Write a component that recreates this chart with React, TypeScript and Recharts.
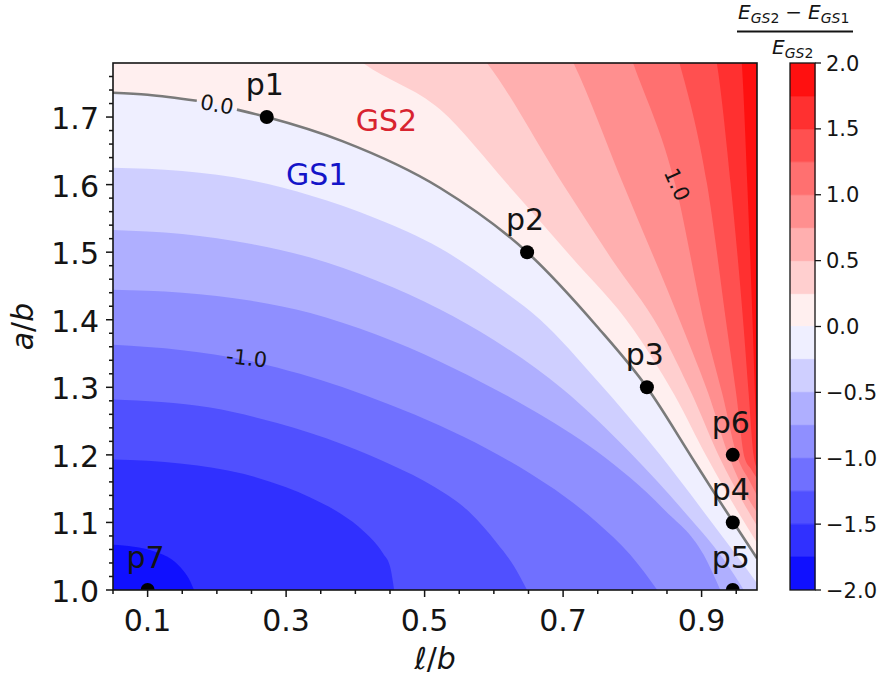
import React from 'react'
import { ComposedChart, BarChart, Bar, Area, Line, Scatter, XAxis, YAxis, CartesianGrid } from 'recharts'

const FONT = '"DejaVu Sans", sans-serif'
const INK = '#141414'

// contour levels of (E_GS2 - E_GS1) / E_GS2
const LEVELS = [-1.75, -1.5, -1.25, -1.0, -0.75, -0.5, -0.25, 0.0, 0.25, 0.5, 0.75, 1.0, 1.25, 1.5, 1.75]
const BAND_EDGES = [-2, ...LEVELS, 2]

// bwr colormap, one colour per band (-2 .. 2)
const BAND_COLORS = [
  '#1010ff', '#3030ff', '#5050ff', '#7070ff', '#8f8fff', '#afafff', '#cfcfff', '#efefff',
  '#ffefef', '#ffcfcf', '#ffafaf', '#ff8f8f', '#ff7070', '#ff5050', '#ff3030', '#ff1010',
]

// contour lines, [l/b, a/b]
const C_M175 = [[0.05, 1.067], [0.08, 1.064], [0.11, 1.057], [0.135, 1.045], [0.152, 1.028], [0.162, 1.012], [0.167, 1.0]]
const C_M150 = [[0.05, 1.193], [0.15, 1.187], [0.238, 1.172], [0.3, 1.152], [0.335, 1.137], [0.38, 1.112], [0.412, 1.087], [0.44, 1.054], [0.45, 1.035], [0.456, 1.0]]
const C_M125 = [[0.05, 1.282], [0.19, 1.27], [0.287, 1.247], [0.383, 1.215], [0.45, 1.186], [0.515, 1.152], [0.565, 1.115], [0.604, 1.07], [0.628, 1.037], [0.648, 1.0]]
const C_M100 = [[0.05, 1.363], [0.15, 1.355], [0.243, 1.34], [0.32, 1.32], [0.382, 1.3], [0.45, 1.274], [0.5225, 1.243], [0.59, 1.209], [0.653, 1.172], [0.7, 1.14], [0.749, 1.1], [0.797, 1.052], [0.836, 1.0]]
const C_M075 = [[0.05, 1.4445], [0.15, 1.44], [0.25, 1.428], [0.335, 1.41], [0.43, 1.378], [0.5225, 1.338], [0.6, 1.298], [0.653, 1.268], [0.749, 1.205], [0.845, 1.12], [0.903, 1.052], [0.927, 1.0]]
const C_M050 = [[0.05, 1.533], [0.15, 1.527], [0.25, 1.512], [0.335, 1.492], [0.43, 1.458], [0.5225, 1.415], [0.6, 1.37], [0.701, 1.296], [0.797, 1.203], [0.874, 1.117], [0.932, 1.045], [0.961, 1.0]]
const C_M025 = [[0.05, 1.625], [0.15, 1.62], [0.25, 1.606], [0.335, 1.584], [0.43, 1.55], [0.5225, 1.506], [0.604, 1.45], [0.667, 1.4], [0.749, 1.31], [0.84, 1.2], [0.9, 1.12], [0.955, 1.045], [0.98, 1.01]]
const C_000 = [[0.05, 1.736], [0.1, 1.733], [0.171, 1.724], [0.229, 1.711], [0.272, 1.7], [0.382, 1.664], [0.5225, 1.595], [0.648, 1.5], [0.749, 1.39], [0.821, 1.3], [0.886, 1.196], [0.917, 1.146], [0.98, 1.047]]
const C_P025 = [[0.05, 2.3], [0.35, 1.83], [0.411, 1.78], [0.5225, 1.711], [0.62, 1.6], [0.71, 1.495], [0.802, 1.385], [0.86, 1.29], [0.908, 1.196], [0.95, 1.12], [0.98, 1.07]]
const C_P050 = [[0.05, 2.5], [0.54, 1.84], [0.59, 1.78], [0.7, 1.6], [0.77, 1.49], [0.84, 1.385], [0.886, 1.29], [0.926, 1.196], [0.96, 1.13], [0.98, 1.095]]
const C_P075 = [[0.05, 2.8], [0.685, 1.84], [0.715, 1.78], [0.787, 1.6], [0.874, 1.385], [0.91, 1.29], [0.94, 1.196], [0.965, 1.14], [0.98, 1.115]]
const C_P100 = [[0.05, 3.0], [0.78, 1.84], [0.801, 1.78], [0.862, 1.6], [0.906, 1.385], [0.93, 1.29], [0.952, 1.196], [0.97, 1.16], [0.98, 1.14]]
const C_P125 = [[0.05, 3.2], [0.85, 1.84], [0.868, 1.78], [0.908, 1.6], [0.937, 1.385], [0.95, 1.29], [0.962, 1.196], [0.972, 1.178], [0.98, 1.165]]
const C_P150 = [[0.05, 3.4], [0.91, 1.84], [0.922, 1.78], [0.942, 1.6], [0.961, 1.385], [0.968, 1.29], [0.975, 1.2], [0.98, 1.18]]
const C_P175 = [[0.05, 3.6], [0.95, 1.84], [0.958, 1.78], [0.966, 1.6], [0.974, 1.385], [0.977, 1.29], [0.98, 1.2]]

const CONTOURS = [C_M175, C_M150, C_M125, C_M100, C_M075, C_M050, C_M025, C_000, C_P025, C_P050, C_P075, C_P100, C_P125, C_P150, C_P175]

// marked points
const P_NAMES = ['p1', 'p2', 'p3', 'p4', 'p5', 'p6', 'p7']
const P_X = [0.272, 0.648, 0.821, 0.945, 0.945, 0.945, 0.1]
const P_Y = [1.7, 1.5, 1.3, 1.1, 1.0, 1.2, 1.0]

// text annotations inside the axes
const ANN_TEXT = ['GS1', 'GS2', '0.0', '-1.0', '1.0']
const ANN_X = [0.344, 0.445, 0.2, 0.243, 0.864]
const ANN_Y = [1.599, 1.679, 1.718, 1.343, 1.6]
const ANN_STYLE: Record<string, { size: number; color: string; rot: number; center: boolean }> = {
  GS1: { size: 30, color: '#1414c8', rot: 0, center: false },
  GS2: { size: 30, color: '#d8232f', rot: 0, center: false },
  '0.0': { size: 21, color: INK, rot: 10, center: true },
  '-1.0': { size: 21, color: INK, rot: 6, center: true },
  '1.0': { size: 21, color: INK, rot: 66, center: true },
}

// ticks
const X_MAJOR = [0.1, 0.3, 0.5, 0.7, 0.9]
const Y_MAJOR = [1.0, 1.1, 1.2, 1.3, 1.4, 1.5, 1.6, 1.7]
const CB_TICKS = [-2, -1.5, -1, -0.5, 0, 0.5, 1, 1.5, 2]
const X_MINOR = Array.from({ length: 19 }, (_, i) => +(0.05 + 0.05 * i).toFixed(2))
const Y_MINOR = Array.from({ length: 39 }, (_, i) => +(1 + 0.02 * i).toFixed(2))

const toPts = (arr: number[][]) => arr.map(([x, y]) => ({ x, y }))
const isIn = (list: number[], v: number) => list.some(t => Math.abs(t - v) < 1e-6)

const ZERO_LINE = [...toPts(C_000.slice(0, 3)), { x: 0.2, y: null }, ...toPts(C_000.slice(3))]
const POINTS = P_NAMES.map((name, i) => ({ name, x: P_X[i], y: P_Y[i] }))
const ANNOTATIONS = ANN_TEXT.map((text, i) => ({ text, x: ANN_X[i], y: ANN_Y[i] }))

// colorbar: one stacked row, negative bands stack down from 0, positive up
const CB_ROW = [
  BAND_COLORS.reduce(
    (row, _, i) => ({ ...row, [`b${i}`]: BAND_EDGES[i + 1] <= 0 ? BAND_EDGES[i] - BAND_EDGES[i + 1] : BAND_EDGES[i + 1] - BAND_EDGES[i] }),
    { k: 'cb' } as Record<string, number | string>,
  ),
]
const CB_ORDER = [8, 9, 10, 11, 12, 13, 14, 15, 7, 6, 5, 4, 3, 2, 1, 0]

// pixel layout
const W = 882
const H = 682
const PLOT = { left: 113, top: 63, right: 757, bottom: 590 }
const CBAR = { left: 790, width: 25 }

const fmt = (v: number) => v.toFixed(1).replace('-', '\u2212')

function XTick(props: any) {
  const { x, y, payload } = props
  const major = isIn(X_MAJOR, payload.value)
  return (
    <g>
      <line x1={x} x2={x} y1={y} y2={y + (major ? 7 : 4)} stroke={INK} strokeWidth={1.5} />
      {major && (
        <text x={x} y={y + 41} textAnchor="middle" fontSize={30} fontFamily={FONT} fill={INK}>
          {payload.value.toFixed(1)}
        </text>
      )}
    </g>
  )
}

function YTick(props: any) {
  const { x, y, payload } = props
  const major = isIn(Y_MAJOR, payload.value)
  return (
    <g>
      <line x1={x - (major ? 7 : 4)} x2={x} y1={y} y2={y} stroke={INK} strokeWidth={1.5} />
      {major && (
        <text x={x - 14} y={y + 12} textAnchor="end" fontSize={30} fontFamily={FONT} fill={INK}>
          {payload.value.toFixed(1)}
        </text>
      )}
    </g>
  )
}

function CbTick(props: any) {
  const { x, y, payload } = props
  return (
    <g>
      <line x1={x} x2={x + 6} y1={y} y2={y} stroke={INK} strokeWidth={1.3} />
      <text x={x + 11} y={y + 7.5} textAnchor="start" fontSize={21} fontFamily={FONT} fill={INK}>
        {fmt(payload.value)}
      </text>
    </g>
  )
}

function PointMark(props: any) {
  const { cx, cy, payload } = props
  return (
    <g>
      <circle cx={cx} cy={cy} r={7} fill="#000" />
      <text x={cx - 2} y={cy - 22} textAnchor="middle" fontSize={30} fontFamily={FONT} fill={INK}>
        {payload.name}
      </text>
    </g>
  )
}

function AnnText(props: any) {
  const { cx, cy, payload } = props
  const s = ANN_STYLE[payload.text]
  return (
    <text
      x={cx}
      y={cy}
      textAnchor="middle"
      dominantBaseline={s.center ? 'central' : 'auto'}
      fontSize={s.size}
      fontFamily={FONT}
      fill={s.color}
      transform={s.rot ? `rotate(${s.rot} ${cx} ${cy})` : undefined}
    >
      {payload.text}
    </text>
  )
}

export default function App() {
  const order = CONTOURS.map((c, i) => ({ c, i })).reverse()
  return (
    <div style={{ position: 'absolute', left: 0, top: 0, width: W, height: H, background: '#fff', fontFamily: FONT }}>
      <ComposedChart
        width={W}
        height={H}
        margin={{ top: PLOT.top, right: W - PLOT.right, bottom: 0, left: 0 }}
      >
        <CartesianGrid horizontal={false} vertical={false} fill={BAND_COLORS[15]} fillOpacity={1} />
        <XAxis
          dataKey="x"
          type="number"
          domain={[0.05, 0.98]}
          allowDataOverflow
          ticks={X_MINOR}
          interval={0}
          height={H - PLOT.bottom}
          tickSize={0}
          tickMargin={0}
          tickLine={false}
          axisLine={false}
          tick={<XTick />}
        />
        <YAxis
          dataKey="y"
          type="number"
          domain={[1.0, 1.78]}
          allowDataOverflow
          ticks={Y_MINOR}
          interval={0}
          width={PLOT.left}
          tickSize={0}
          tickMargin={0}
          tickLine={false}
          axisLine={false}
          tick={<YTick />}
        />
        {order.map(({ c, i }) => (
          <Area
            key={`lvl${LEVELS[i]}`}
            data={toPts(c)}
            dataKey="y"
            type="monotone"
            fill={BAND_COLORS[i]}
            fillOpacity={1}
            stroke="none"
            dot={false}
            activeDot={false}
            isAnimationActive={false}
          />
        ))}
        <Line
          data={ZERO_LINE}
          dataKey="y"
          type="monotone"
          stroke="#7a7a7a"
          strokeWidth={2.6}
          dot={false}
          activeDot={false}
          connectNulls={false}
          isAnimationActive={false}
        />
        <Scatter data={ANNOTATIONS} dataKey="y" shape={(p: any) => <AnnText {...p} />} isAnimationActive={false} />
        <Scatter data={POINTS} dataKey="y" shape={(p: any) => <PointMark {...p} />} isAnimationActive={false} />
      </ComposedChart>

      <div style={{ position: 'absolute', left: CBAR.left, top: 0 }}>
        <BarChart
          width={CBAR.width + 67}
          height={H}
          data={CB_ROW}
          stackOffset="sign"
          barCategoryGap={0}
          margin={{ top: PLOT.top, right: 0, bottom: H - PLOT.bottom, left: 0 }}
        >
          <XAxis dataKey="k" hide />
          <YAxis
            orientation="right"
            type="number"
            domain={[-2, 2]}
            allowDataOverflow
            ticks={CB_TICKS}
            interval={0}
            width={67}
            tickSize={0}
            tickMargin={0}
            tickLine={false}
            axisLine={false}
            tick={<CbTick />}
          />
          {CB_ORDER.map(i => (
            <Bar
              key={i}
              dataKey={`b${i}`}
              stackId="cb"
              fill={BAND_COLORS[i]}
              stroke={BAND_COLORS[i]}
              strokeWidth={0.8}
              isAnimationActive={false}
            />
          ))}
        </BarChart>
      </div>

      <svg width={W} height={H} style={{ position: 'absolute', left: 0, top: 0, pointerEvents: 'none' }}>
        {/* axes frames */}
        <rect
          x={PLOT.left}
          y={PLOT.top}
          width={PLOT.right - PLOT.left}
          height={PLOT.bottom - PLOT.top}
          fill="none"
          stroke={INK}
          strokeWidth={1.6}
        />
        <rect
          x={CBAR.left}
          y={PLOT.top}
          width={CBAR.width}
          height={PLOT.bottom - PLOT.top}
          fill="none"
          stroke={INK}
          strokeWidth={1.3}
        />
        <text x={33} y={326.5} transform="rotate(-90 33 326.5)" textAnchor="middle" fontSize={30} fontFamily={FONT} fill={INK}>
          <tspan fontStyle="italic">a</tspan>/<tspan fontStyle="italic">b</tspan>
        </text>
        <text x={435} y={669} textAnchor="middle" fontSize={30} fontFamily={FONT} fill={INK}>
          <tspan fontStyle="italic">ℓ</tspan>/<tspan fontStyle="italic">b</tspan>
        </text>
        <text x={738} y={19} fontFamily={FONT} fill={INK}>
          <tspan fontSize={20} fontStyle="italic">E</tspan>
          <tspan fontSize={14} fontStyle="italic" dy={4}>GS</tspan>
          <tspan fontSize={14}>2</tspan>
          <tspan fontSize={20} dy={-4} dx={6}>−</tspan>
          <tspan fontSize={20} fontStyle="italic" dx={6}>E</tspan>
          <tspan fontSize={14} fontStyle="italic" dy={4}>GS</tspan>
          <tspan fontSize={14}>1</tspan>
        </text>
        <line x1={737} x2={853} y1={31.5} y2={31.5} stroke={INK} strokeWidth={2} />
        <text x={772} y={54} fontFamily={FONT} fill={INK}>
          <tspan fontSize={20} fontStyle="italic">E</tspan>
          <tspan fontSize={14} fontStyle="italic" dy={4}>GS</tspan>
          <tspan fontSize={14}>2</tspan>
        </text>
      </svg>
    </div>
  )
}
